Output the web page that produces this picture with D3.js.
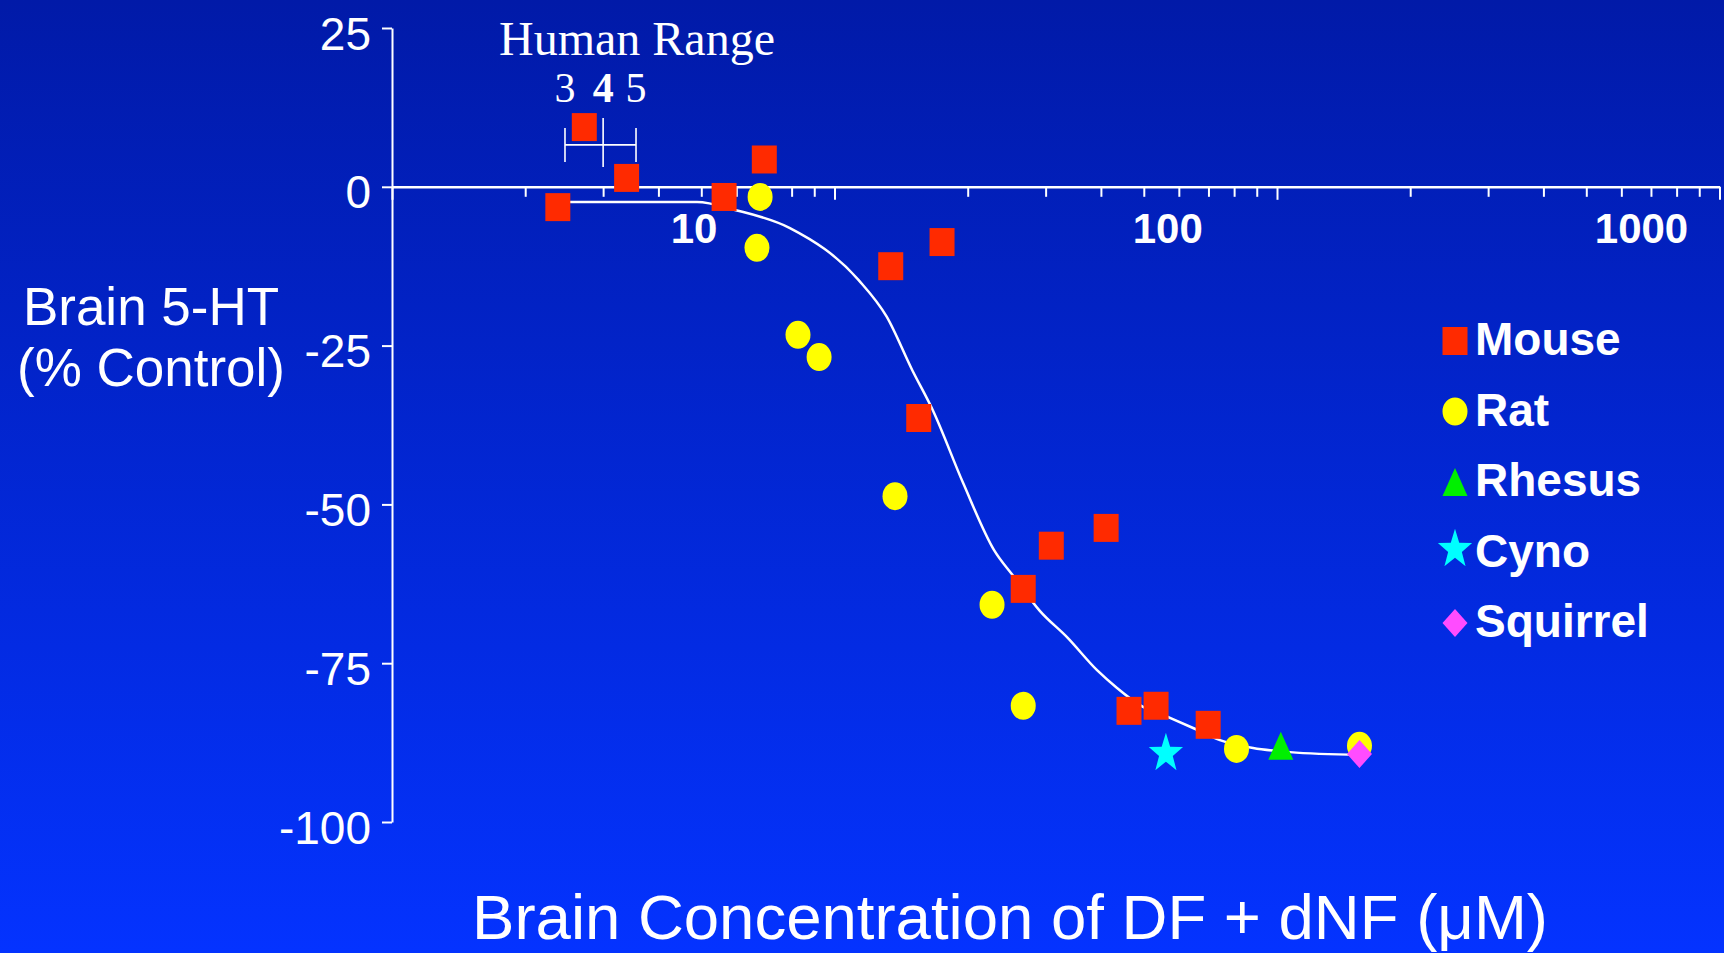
<!DOCTYPE html>
<html><head><meta charset="utf-8">
<script src="https://cdn.jsdelivr.net/npm/d3@7"></script>
<style>body{margin:0;background:#0433ff;} svg{display:block;}</style>
</head><body><svg id="chart" width="1724" height="953"></svg>
<script>
// ---- data ----
const mouseX = [2.37, 2.72, 3.39, 5.63, 6.94, 13.4, 17.5, 15.5, 26.7, 30.9, 41.1, 46.3, 53.3, 69.9];
const mouseY = [-3.2, 9.4, 1.4, -1.6, 4.3, -12.5, -8.7, -36.4, -63.3, -56.5, -53.7, -82.5, -81.7, -84.7];
const ratX = [6.79, 6.68, 8.27, 9.23, 13.7, 22.7, 26.7, 81.0, 153.6];
const ratY = [-1.6, -9.6, -23.3, -26.8, -48.7, -65.8, -81.7, -88.5, -88.0];
const rhesusX = [102];
const rhesusY = [-88.0];
const cynoX = [56.1];
const cynoY = [-89.2];
const squirrelX = [153.6];
const squirrelY = [-89.3];
const fitX = [2.37, 4.89, 5.96, 7.93, 11.34, 13.12, 14.97, 16.66, 19.52, 22.94, 25.44, 29.14, 33.53, 39.2, 43.5, 49.0, 57.3, 64.6, 74.3, 88.3, 107, 154];
const fitY = [-2.4, -2.4, -3.65, -6.5, -14.7, -20.45, -28.8, -35.1, -46.6, -57.2, -61.4, -66.8, -70.9, -76.1, -78.9, -81.6, -83.6, -85.2, -87.1, -88.35, -89.0, -89.45];
const yTicks = [25, 0, -25, -50, -75, -100];
const xMajorTicks = [1, 10, 100, 1000];
const xMinorTicks = [2,3,4,5,6,7,8,9,20,30,40,50,60,70,80,90,200,300,400,500,600,700,800,900];
const xTickLabels = [10, 100, 1000];
const species = ["Mouse", "Rat", "Rhesus", "Cyno", "Squirrel"];
const speciesColors = ["#ff2a00", "#ffff00", "#00f000", "#00ffff", "#ff4cff"];
const speciesShapes = ["square", "circle", "triangle", "star", "diamond"];
const humanRangeValues = [2.46, 3.0, 3.56];
const humanRangeLabels = ["3", "4", "5"];
const bracketLevel = 6.6;

// ---- chart ----
const W = 1724, H = 953;
const svg = d3.select('#chart');
const defs = svg.append('defs');
const grad = defs.append('linearGradient').attr('id','bg').attr('x1',0).attr('y1',0).attr('x2',0).attr('y2',1);
grad.append('stop').attr('offset','0%').attr('stop-color','#011aa8');
grad.append('stop').attr('offset','100%').attr('stop-color','#0433ff');
svg.append('rect').attr('width',W).attr('height',H).attr('fill','url(#bg)');

const x = d3.scaleLog().domain([1,1000]).range([392,1719.5]);
const y = d3.scaleLinear().domain([-100,25]).range([822,28]);
const labelX = d3.scaleLog().domain([10,1000]).range([694,1641.5]);
const sans = '"Liberation Sans", Arial, Helvetica, sans-serif';
const serif = '"Liberation Serif", "Times New Roman", serif';

// x axis (minor + major ticks)
const gx = svg.append('g').attr('transform',`translate(0,${y(0)})`)
  .call(d3.axisBottom(x).tickValues(xMinorTicks).tickSize(10).tickSizeOuter(0).tickFormat(''));
const gxM = svg.append('g').attr('transform',`translate(0,${y(0)})`)
  .call(d3.axisBottom(x).tickValues(xMajorTicks).tickSize(13).tickSizeOuter(0).tickFormat(''));
gxM.select('.domain').remove();
[gx, gxM].forEach(g => {
  g.selectAll('.domain').attr('stroke','#fff').attr('stroke-width',2.5);
  g.selectAll('.tick line').attr('stroke','#fff').attr('stroke-width',2);
});
svg.append('g').selectAll('text').data(xTickLabels).join('text')
  .attr('x', d => labelX(d)).attr('y', 243)
  .attr('text-anchor','middle').attr('fill','#fff')
  .style('font-family', sans).style('font-weight','bold').style('font-size','42px')
  .text(d => d);

// y axis
const gy = svg.append('g').attr('transform',`translate(${x(1)},0)`)
  .call(d3.axisLeft(y).tickValues(yTicks).tickSize(10).tickSizeOuter(0).tickPadding(11).tickFormat(d => d));
gy.selectAll('.domain').attr('stroke','#fff').attr('stroke-width',2);
gy.selectAll('.tick line').attr('stroke','#fff').attr('stroke-width',2);
gy.selectAll('.tick text').attr('fill','#fff').attr('dy','0.46em')
  .style('font-family', sans).style('font-size','46px');

// fit curve
const fit = fitX.map((v,i) => [v, fitY[i]]);
svg.append('path').datum(fit)
  .attr('d', d3.line().x(d => x(d[0])).y(d => y(d[1])).curve(d3.curveMonotoneX))
  .attr('fill','none').attr('stroke','#fff').attr('stroke-width',2.5);

// markers
function markerPath(shape, cx, cy) {
  const w = 12.5, h = 14;
  if (shape === 'square') return `M${cx-w},${cy-h}H${cx+w}V${cy+h}H${cx-w}Z`;
  if (shape === 'triangle') return `M${cx},${cy-h}L${cx+w},${cy+h}L${cx-w},${cy+h}Z`;
  if (shape === 'diamond') return `M${cx},${cy-h}L${cx+w},${cy}L${cx},${cy+h}L${cx-w},${cy}Z`;
  if (shape === 'star') {
    const R = 18, r = 7.2, sy = 1.15;
    let p = '';
    for (let i = 0; i < 10; i++) {
      const a = -Math.PI/2 + i*Math.PI/5;
      const rr = i % 2 ? r : R;
      p += (i ? 'L' : 'M') + (cx + rr*Math.cos(a)).toFixed(2) + ',' + (cy + rr*Math.sin(a)*sy).toFixed(2);
    }
    return p + 'Z';
  }
  // circle (slightly tall ellipse)
  return `M${cx-w},${cy}A${w},${h} 0 1,0 ${cx+w},${cy}A${w},${h} 0 1,0 ${cx-w},${cy}Z`;
}
const seriesX = [mouseX, ratX, rhesusX, cynoX, squirrelX];
const seriesY = [mouseY, ratY, rhesusY, cynoY, squirrelY];
species.forEach((name, si) => {
  const pts = seriesX[si].map((v,i) => [v, seriesY[si][i]]);
  svg.append('g').attr('class','series-' + name).selectAll('path').data(pts).join('path')
    .attr('d', d => markerPath(speciesShapes[si], x(d[0]), y(d[1])))
    .attr('fill', speciesColors[si]);
});

// legend
const leg = svg.append('g');
species.forEach((name, i) => {
  const base = 355 + i*70.5;
  leg.append('path').attr('d', markerPath(speciesShapes[i], 1455, base - (speciesShapes[i]==='star' ? 17 : 14)))
    .attr('fill', speciesColors[i]);
  leg.append('text').attr('x',1475).attr('y',base).attr('fill','#fff')
    .style('font-family', sans).style('font-weight','bold').style('font-size','46px').text(name);
});

// human range annotation
const by = y(bracketLevel);
const ann = svg.append('g').attr('stroke','#fff').attr('stroke-width',1.6);
ann.append('line').attr('x1',x(humanRangeValues[0])).attr('x2',x(humanRangeValues[2])).attr('y1',by).attr('y2',by);
humanRangeValues.forEach((v,i) => {
  const up = i === 1 ? 27 : 17, down = i === 1 ? 22 : 17;
  ann.append('line').attr('x1',x(v)).attr('x2',x(v)).attr('y1',by-up).attr('y2',by+down);
});
svg.append('g').selectAll('text').data(humanRangeValues).join('text')
  .attr('x', d => x(d)).attr('y', 102).attr('text-anchor','middle').attr('fill','#fff')
  .style('font-family', serif).style('font-size','42px')
  .style('font-weight', (d,i) => i === 1 ? 'bold' : 'normal')
  .text((d,i) => humanRangeLabels[i]);
svg.append('text').attr('x', x(humanRangeValues[2]) + 1).attr('y', 55).attr('text-anchor','middle')
  .attr('fill','#fff').style('font-family', serif).style('font-size','48px').text('Human Range');

// axis titles
const yt = svg.append('text').attr('text-anchor','middle').attr('fill','#fff')
  .style('font-family', sans).style('font-size','53px');
yt.append('tspan').attr('x',151).attr('y',325).text('Brain 5-HT');
yt.append('tspan').attr('x',151).attr('y',386).text('(% Control)');
svg.append('text').attr('x',1010).attr('y',939).attr('text-anchor','middle').attr('fill','#fff')
  .style('font-family', sans).style('font-size','63.5px').text('Brain Concentration of DF + dNF (μM)');
</script>
</body></html>
